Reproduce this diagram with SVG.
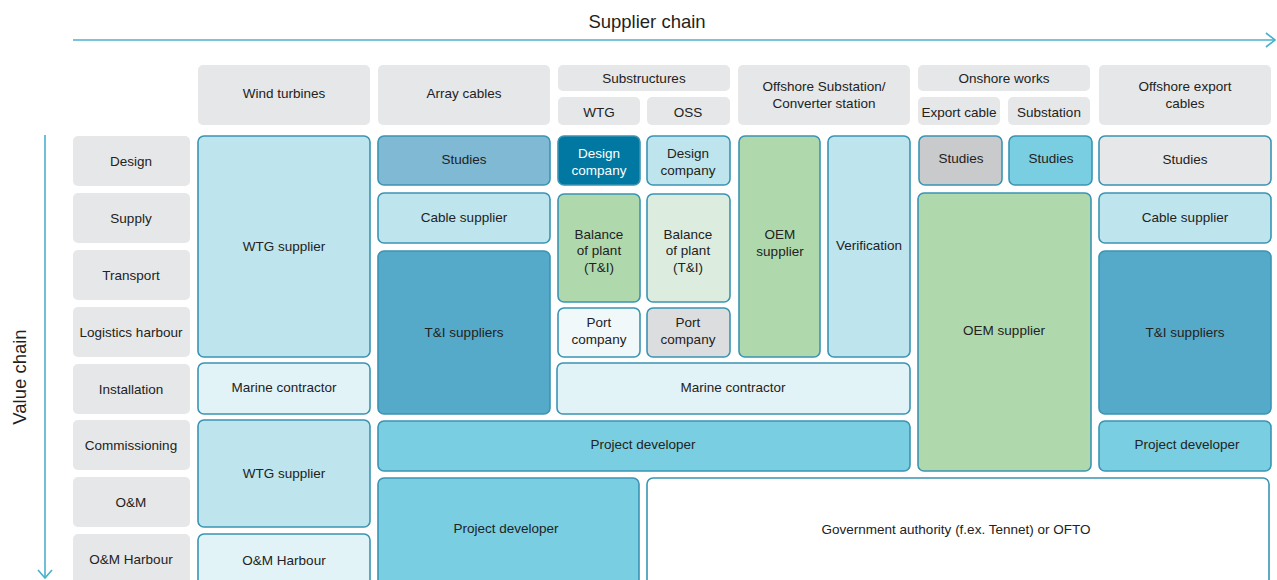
<svg xmlns="http://www.w3.org/2000/svg" width="1277" height="580" viewBox="0 0 1277 580">
  <defs>
    <style>
      text { font-family: "Liberation Sans", Arial, sans-serif; font-size: 13.5px; fill: #222222; text-anchor: middle; }
      .axis-title { font-size: 18.5px; fill: #1f1f1f; }
      .hdr { fill: #e6e7e8; }
      .cell { stroke: #3a94b3; stroke-width: 1.6; }
      .lt { fill: #bee5ed; }
      .vlt { fill: #e1f3f7; }
      .mid { fill: #80b9d3; }
      .dk { fill: #56aac9; }
      .cy { fill: #79cee2; }
      .navy { fill: #0078a1; }
      .gr { fill: #b0d8ad; }
      .lgr { fill: #dcede0; }
      .pale { fill: #f0f8fa; }
      .gy { fill: #dcdddf; }
      .gy2 { fill: #c9cacc; }
      .gy3 { fill: #e6e7e8; }
      .wh { fill: #ffffff; }
      text.inv { fill: #ffffff; }
      .axis { stroke: #4ab0cf; stroke-width: 1.6; fill: none; }
    </style>
  </defs>

  <!-- axes -->
  <g id="axes">
    <text class="axis-title" x="647" y="28">Supplier chain</text>
    <line class="axis" x1="73" y1="40" x2="1275" y2="40"/>
    <polyline class="axis" points="1266,33 1275,40 1266,47"/>
    <text class="axis-title" transform="translate(26,377) rotate(-90)">Value chain</text>
    <line class="axis" x1="45" y1="135" x2="45" y2="578"/>
    <polyline class="axis" points="38,570 45,578 52,570"/>
  </g>

  <!-- column headers -->
  <g id="col-headers">
    <g id="h-wind"><rect class="hdr" x="198" y="65" width="172" height="60" rx="5"/><text x="284" y="98">Wind turbines</text></g>
    <g id="h-array"><rect class="hdr" x="378" y="65" width="172" height="60" rx="5"/><text x="464" y="98">Array cables</text></g>
    <g id="h-sub"><rect class="hdr" x="558" y="65" width="172" height="26" rx="5"/><text x="644" y="83">Substructures</text></g>
    <g id="h-sub-wtg"><rect class="hdr" x="558" y="97" width="82" height="28" rx="5"/><text x="599" y="117">WTG</text></g>
    <g id="h-sub-oss"><rect class="hdr" x="647" y="97" width="83" height="28" rx="5"/><text x="688" y="117">OSS</text></g>
    <g id="h-oss"><rect class="hdr" x="738" y="65" width="172" height="60" rx="5"/><text x="824" y="91">Offshore Substation/</text><text x="824" y="108">Converter station</text></g>
    <g id="h-onshore"><rect class="hdr" x="918" y="65" width="172" height="26" rx="5"/><text x="1004" y="83">Onshore works</text></g>
    <g id="h-on-cable"><rect class="hdr" x="918" y="97" width="82" height="28" rx="5"/><text x="959" y="117">Export cable</text></g>
    <g id="h-on-sub"><rect class="hdr" x="1008" y="97" width="82" height="28" rx="5"/><text x="1049" y="117">Substation</text></g>
    <g id="h-export"><rect class="hdr" x="1099" y="65" width="172" height="60" rx="5"/><text x="1185" y="91">Offshore export</text><text x="1185" y="108">cables</text></g>
  </g>

  <!-- row headers -->
  <g id="row-headers">
    <g id="r-design"><rect class="hdr" x="73" y="136" width="117" height="50" rx="5"/><text x="131" y="166">Design</text></g>
    <g id="r-supply"><rect class="hdr" x="73" y="193" width="117" height="50" rx="5"/><text x="131" y="223">Supply</text></g>
    <g id="r-transport"><rect class="hdr" x="73" y="250" width="117" height="50" rx="5"/><text x="131" y="280">Transport</text></g>
    <g id="r-logistics"><rect class="hdr" x="73" y="307" width="117" height="50" rx="5"/><text x="131" y="337">Logistics harbour</text></g>
    <g id="r-install"><rect class="hdr" x="73" y="364" width="117" height="50" rx="5"/><text x="131" y="394">Installation</text></g>
    <g id="r-commission"><rect class="hdr" x="73" y="420" width="117" height="50" rx="5"/><text x="131" y="450">Commissioning</text></g>
    <g id="r-om"><rect class="hdr" x="73" y="477" width="117" height="50" rx="5"/><text x="131" y="507">O&amp;M</text></g>
    <g id="r-omh"><rect class="hdr" x="73" y="534" width="117" height="50" rx="5"/><text x="131" y="564">O&amp;M Harbour</text></g>
  </g>

  <!-- wind turbines column -->
  <g id="c-wtg-supplier"><rect class="cell lt" x="198" y="136" width="172" height="221" rx="6"/><text x="284" y="251">WTG supplier</text></g>
  <g id="c-wtg-marine"><rect class="cell vlt" x="198" y="363" width="172" height="51" rx="6"/><text x="284" y="392">Marine contractor</text></g>
  <g id="c-wtg-supplier2"><rect class="cell lt" x="198" y="420" width="172" height="107" rx="6"/><text x="284" y="478">WTG supplier</text></g>
  <g id="c-om-harbour"><rect class="cell vlt" x="198" y="534" width="172" height="56" rx="6"/><text x="284" y="565">O&amp;M Harbour</text></g>

  <!-- array cables column -->
  <g id="c-array-studies"><rect class="cell mid" x="378" y="136" width="172" height="49" rx="6"/><text x="464" y="164">Studies</text></g>
  <g id="c-array-cable"><rect class="cell lt" x="378" y="193" width="172" height="50" rx="6"/><text x="464" y="222">Cable supplier</text></g>
  <g id="c-array-ti"><rect class="cell dk" x="378" y="251" width="172" height="163" rx="6"/><text x="464" y="337">T&amp;I suppliers</text></g>

  <!-- substructures -->
  <g id="c-wtg-design"><rect class="cell navy" x="558" y="136" width="82" height="49" rx="6"/><text class="inv" x="599" y="158">Design</text><text class="inv" x="599" y="175">company</text></g>
  <g id="c-oss-design"><rect class="cell lt" x="647" y="136" width="83" height="49" rx="6"/><text x="688" y="158">Design</text><text x="688" y="175">company</text></g>
  <g id="c-wtg-bop"><rect class="cell gr" x="558" y="194" width="82" height="108" rx="6"/><text x="599" y="239">Balance</text><text x="599" y="255">of plant</text><text x="599" y="272">(T&amp;I)</text></g>
  <g id="c-oss-bop"><rect class="cell lgr" x="647" y="194" width="83" height="108" rx="6"/><text x="688" y="239">Balance</text><text x="688" y="255">of plant</text><text x="688" y="272">(T&amp;I)</text></g>
  <g id="c-wtg-port"><rect class="cell pale" x="558" y="308" width="82" height="49" rx="6"/><text x="599" y="327">Port</text><text x="599" y="344">company</text></g>
  <g id="c-oss-port"><rect class="cell gy" x="647" y="308" width="83" height="49" rx="6"/><text x="688" y="327">Port</text><text x="688" y="344">company</text></g>

  <!-- offshore substation -->
  <g id="c-oem"><rect class="cell gr" x="739" y="136" width="81" height="221" rx="6"/><text x="780" y="239">OEM</text><text x="780" y="256">supplier</text></g>
  <g id="c-verification"><rect class="cell lt" x="828" y="136" width="82" height="221" rx="6"/><text x="869" y="250">Verification</text></g>

  <g id="c-marine-wide"><rect class="cell vlt" x="557" y="363" width="353" height="51" rx="6"/><text x="733" y="392">Marine contractor</text></g>
  <g id="c-pd-wide"><rect class="cell cy" x="378" y="421" width="532" height="50" rx="6"/><text x="643" y="449">Project developer</text></g>
  <g id="c-pd-low"><rect class="cell cy" x="378" y="478" width="261" height="110" rx="6"/><text x="506" y="533">Project developer</text></g>
  <g id="c-gov"><rect class="cell wh" x="647" y="478" width="622" height="110" rx="6"/><text x="956" y="534">Government authority (f.ex. Tennet) or OFTO</text></g>

  <!-- onshore works -->
  <g id="c-on-studies1"><rect class="cell gy2" x="919" y="136" width="83" height="49" rx="6"/><text x="961" y="163">Studies</text></g>
  <g id="c-on-studies2"><rect class="cell cy" x="1009" y="136" width="83" height="49" rx="6"/><text x="1051" y="163">Studies</text></g>
  <g id="c-on-oem"><rect class="cell gr" x="918" y="193" width="173" height="278" rx="6"/><text x="1004" y="335">OEM supplier</text></g>

  <!-- offshore export cables -->
  <g id="c-exp-studies"><rect class="cell gy3" x="1099" y="136" width="172" height="49" rx="6"/><text x="1185" y="164">Studies</text></g>
  <g id="c-exp-cable"><rect class="cell lt" x="1099" y="193" width="172" height="50" rx="6"/><text x="1185" y="222">Cable supplier</text></g>
  <g id="c-exp-ti"><rect class="cell dk" x="1099" y="251" width="172" height="163" rx="6"/><text x="1185" y="337">T&amp;I suppliers</text></g>
  <g id="c-exp-pd"><rect class="cell cy" x="1099" y="421" width="172" height="50" rx="6"/><text x="1187" y="449">Project developer</text></g>
</svg>
